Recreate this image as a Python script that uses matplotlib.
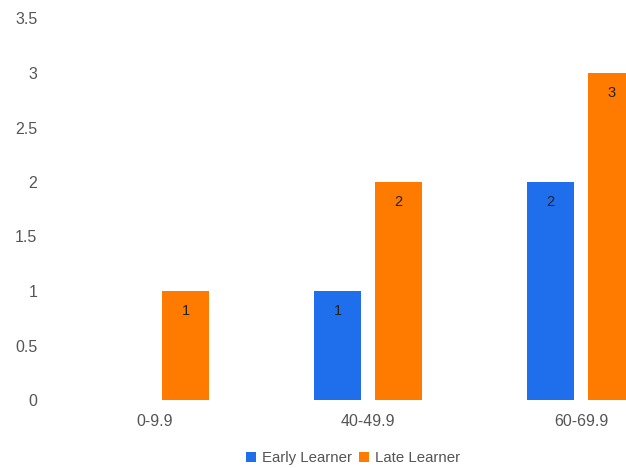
import numpy as np
import matplotlib.pyplot as plt

plt.rcParams['font.family'] = ['Liberation Sans', 'DejaVu Sans']

categories = ['0-9.9', '40-49.9', '60-69.9']
early = [0, 1, 2]
late = [1, 2, 3]
yticks = [0, 0.5, 1, 1.5, 2, 2.5, 3, 3.5]
ytick_labels = ['0', '0.5', '1', '1.5', '2', '2.5', '3', '3.5']

blue = '#1f6fec'
orange = '#ff7b00'
grey = '#555555'

fig = plt.figure(figsize=(6.26, 4.68), dpi=100)
# axes spans from x=45px to the right edge (chart is cut off there)
ax = fig.add_axes([45 / 626, 68 / 468, (626 - 45) / 626, (400 - 18.5) / 468])

x = np.arange(len(categories))
w = 0.223
off = 0.143
b1 = ax.bar(x - off, early, w, color=blue, label='Early Learner')
b2 = ax.bar(x + off, late, w, color=orange, label='Late Learner')

for bars, vals in [(b1, early), (b2, late)]:
    for r, v in zip(bars, vals):
        if v == 0:
            continue
        ax.annotate(str(v), (r.get_x() + r.get_width() / 2, v),
                    xytext=(0, -14.5), textcoords='offset points',
                    ha='center', va='center', fontsize=10.5, color='#222222')

ax.set_xlim((45 - 155) / 213, (626 - 155) / 213)
ax.set_ylim(0, 3.5)
ax.set_yticks(yticks)
ax.set_yticklabels(ytick_labels)
ax.set_xticks(x)
ax.set_xticklabels(categories)
ax.tick_params(length=0, colors=grey, labelsize=11.5)
ax.tick_params(axis='y', pad=5.5)
ax.tick_params(axis='x', pad=10)
for s in ax.spines.values():
    s.set_visible(False)

fig.legend(handles=[b1, b2], loc='center', bbox_to_anchor=(353 / 626, 10 / 468),
           ncol=2, frameon=False, fontsize=10.8, labelcolor=grey,
           handlelength=0.65, handleheight=0.65, handletextpad=0.4, columnspacing=0.5)

fig.savefig('out.png', dpi=100)
